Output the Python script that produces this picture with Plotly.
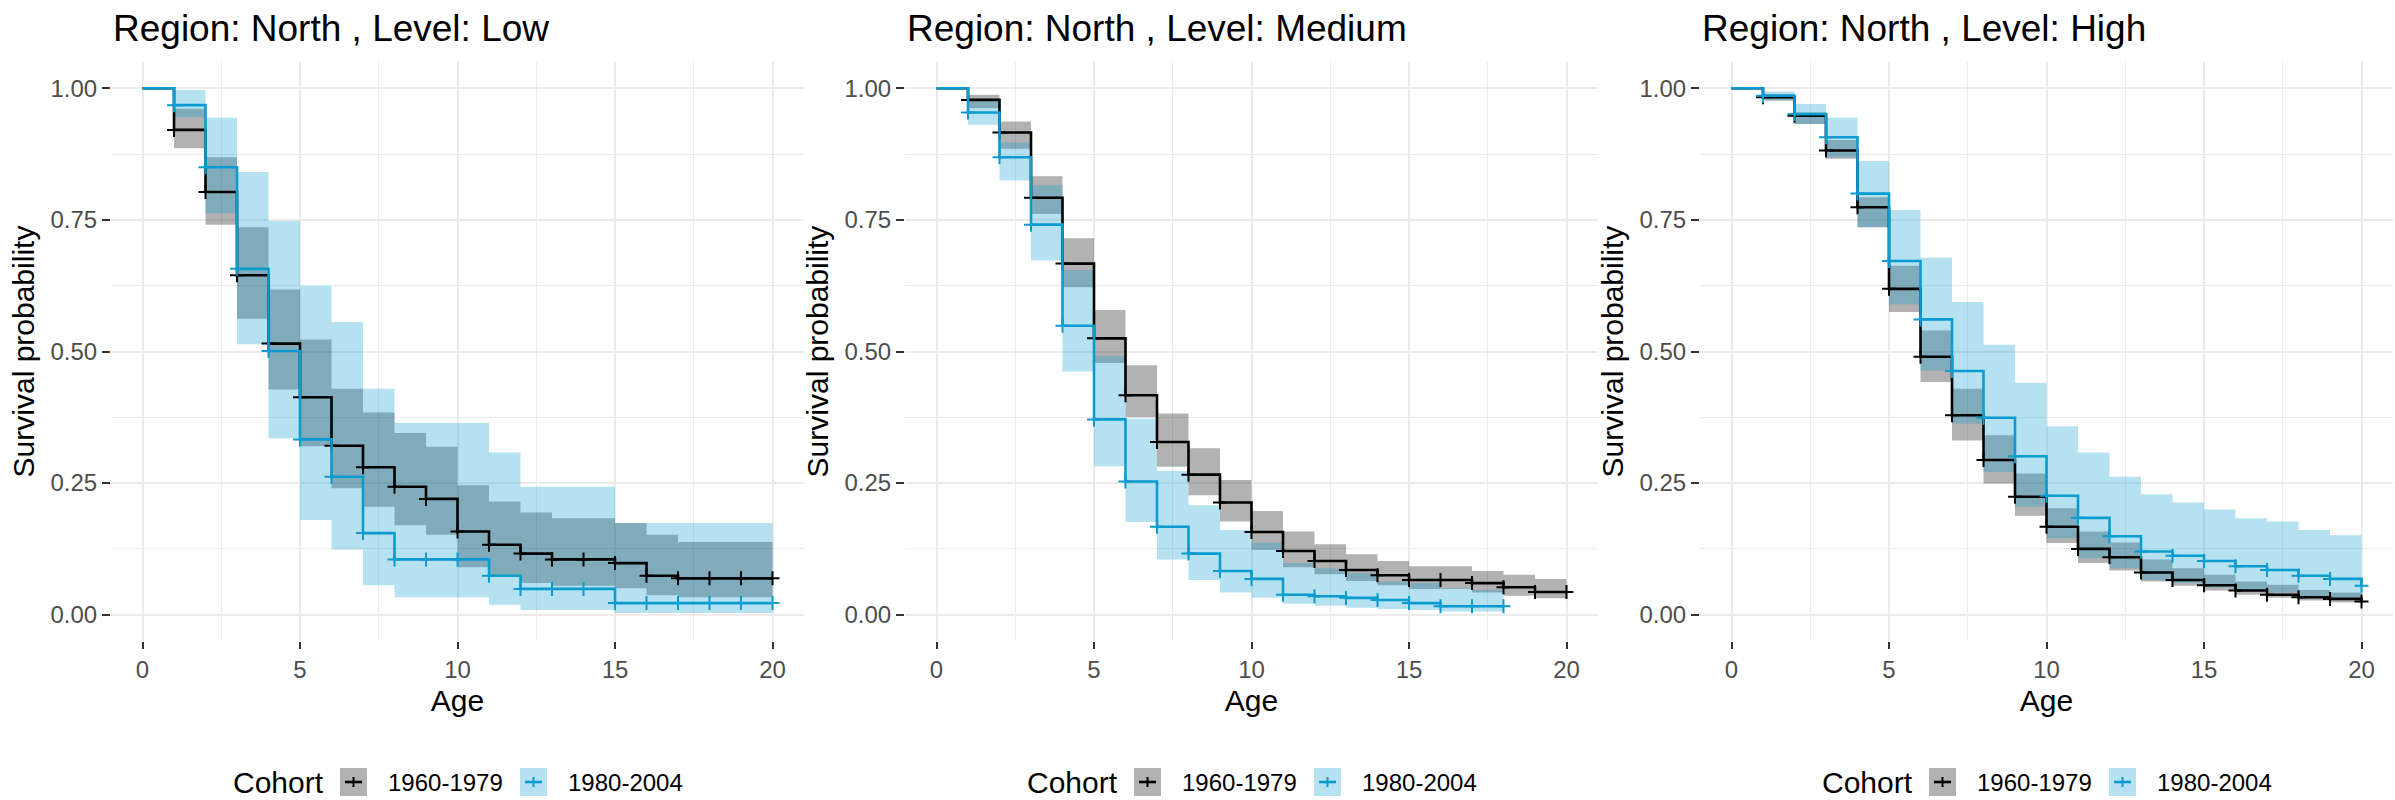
import plotly.graph_objects as go

# ---------------- data ----------------
ages = list(range(21))
cohorts = ["1960-1979", "1980-2004"]
panel_titles = ["Region: North , Level: Low", "Region: North , Level: Medium", "Region: North , Level: High"]
x_ticks = [0, 5, 10, 15, 20]
y_ticks = [0.0, 0.25, 0.5, 0.75, 1.0]

# Level: Low
low_1960_surv = [1.0, 0.921, 0.803, 0.645, 0.515, 0.413, 0.321, 0.280, 0.243, 0.220, 0.158, 0.133, 0.116, 0.105, 0.105, 0.098, 0.074, 0.069, 0.069, 0.069, 0.069]
low_1960_upper = [1.0, 0.961, 0.869, 0.736, 0.618, 0.523, 0.429, 0.384, 0.345, 0.319, 0.246, 0.215, 0.194, 0.183, 0.183, 0.174, 0.152, 0.138, 0.138, 0.138, 0.138]
low_1960_lower = [1.0, 0.886, 0.741, 0.562, 0.428, 0.320, 0.240, 0.205, 0.170, 0.152, 0.090, 0.072, 0.060, 0.055, 0.055, 0.050, 0.037, 0.033, 0.033, 0.033, 0.033]
low_1980_surv = [1.0, 0.968, 0.850, 0.657, 0.501, 0.333, 0.262, 0.155, 0.105, 0.105, 0.105, 0.074, 0.049, 0.049, 0.049, 0.022, 0.022, 0.022, 0.022, 0.022, 0.022]
low_1980_upper = [1.0, 0.997, 0.944, 0.841, 0.748, 0.625, 0.556, 0.429, 0.364, 0.364, 0.364, 0.308, 0.243, 0.243, 0.243, 0.174, 0.174, 0.174, 0.174, 0.174, 0.174]
low_1980_lower = [1.0, 0.945, 0.762, 0.514, 0.335, 0.180, 0.124, 0.056, 0.033, 0.033, 0.033, 0.019, 0.009, 0.009, 0.009, 0.003, 0.003, 0.003, 0.003, 0.003, 0.003]

# Level: Medium
med_1960_surv = [1.0, 0.978, 0.916, 0.792, 0.667, 0.525, 0.417, 0.328, 0.266, 0.213, 0.157, 0.121, 0.102, 0.085, 0.075, 0.066, 0.066, 0.060, 0.052, 0.043, 0.043]
med_1960_upper = [1.0, 0.988, 0.937, 0.833, 0.715, 0.579, 0.474, 0.382, 0.316, 0.256, 0.197, 0.158, 0.134, 0.115, 0.102, 0.092, 0.092, 0.083, 0.076, 0.068, 0.068]
med_1960_lower = [1.0, 0.962, 0.885, 0.761, 0.622, 0.478, 0.375, 0.281, 0.227, 0.177, 0.123, 0.090, 0.077, 0.064, 0.056, 0.049, 0.049, 0.042, 0.036, 0.031, 0.031]
med_1980_surv = [1.0, 0.954, 0.869, 0.741, 0.549, 0.371, 0.253, 0.167, 0.116, 0.083, 0.068, 0.038, 0.035, 0.032, 0.028, 0.022, 0.016, 0.016, 0.016]
med_1980_upper = [1.0, 0.977, 0.897, 0.816, 0.655, 0.491, 0.372, 0.273, 0.208, 0.161, 0.137, 0.098, 0.088, 0.079, 0.063, 0.060, 0.050, 0.047, 0.047]
med_1980_lower = [1.0, 0.931, 0.825, 0.673, 0.462, 0.282, 0.176, 0.105, 0.066, 0.042, 0.032, 0.021, 0.017, 0.013, 0.011, 0.009, 0.006, 0.006, 0.006]

# Level: High
high_1960_surv = [1.0, 0.983, 0.948, 0.882, 0.774, 0.619, 0.490, 0.379, 0.294, 0.224, 0.167, 0.125, 0.109, 0.080, 0.066, 0.056, 0.046, 0.038, 0.033, 0.030, 0.025]
high_1960_upper = [1.0, 0.989, 0.954, 0.902, 0.793, 0.663, 0.540, 0.429, 0.341, 0.268, 0.202, 0.158, 0.137, 0.105, 0.088, 0.076, 0.063, 0.057, 0.047, 0.042, 0.042]
high_1960_lower = [1.0, 0.977, 0.932, 0.866, 0.736, 0.575, 0.442, 0.331, 0.249, 0.188, 0.136, 0.098, 0.084, 0.063, 0.055, 0.046, 0.038, 0.032, 0.027, 0.023, 0.023]
high_1980_surv = [1.0, 0.986, 0.951, 0.907, 0.800, 0.672, 0.561, 0.463, 0.374, 0.301, 0.226, 0.184, 0.149, 0.120, 0.112, 0.102, 0.092, 0.085, 0.074, 0.068, 0.055]
high_1980_upper = [1.0, 0.994, 0.970, 0.944, 0.862, 0.769, 0.678, 0.594, 0.513, 0.440, 0.358, 0.308, 0.262, 0.229, 0.213, 0.200, 0.183, 0.177, 0.161, 0.151, 0.151]
high_1980_lower = [1.0, 0.977, 0.932, 0.869, 0.736, 0.590, 0.464, 0.363, 0.271, 0.205, 0.145, 0.107, 0.088, 0.066, 0.060, 0.052, 0.044, 0.042, 0.033, 0.030, 0.030]

panels = [
    [(low_1960_surv, low_1960_upper, low_1960_lower), (low_1980_surv, low_1980_upper, low_1980_lower)],
    [(med_1960_surv, med_1960_upper, med_1960_lower), (med_1980_surv, med_1980_upper, med_1980_lower)],
    [(high_1960_surv, high_1960_upper, high_1960_lower), (high_1980_surv, high_1980_upper, high_1980_lower)],
]

# ---------------- style ----------------
W, H = 2395, 800
FONT = "Liberation Sans, Arial, sans-serif"
line_colors = ["#000000", "#0A9BD0"]
fill_colors = ["rgba(0,0,0,0.30)", "rgba(10,155,208,0.30)"]
panel_left_px = [111, 905, 1700]
panel_w_px = 693
panel_top_px, panel_bot_px = 62, 641

def px_x(x):
    return x / W

def px_y(y):
    return (H - y) / H

fig = go.Figure()

for p, series in enumerate(panels):
    xa = "x" if p == 0 else f"x{p+1}"
    ya = "y" if p == 0 else f"y{p+1}"
    # confidence bands
    for c, (surv, upper, lower) in enumerate(series):
        n = len(surv)
        fig.add_trace(go.Scatter(x=ages[:n], y=lower, mode="lines", line=dict(width=0, shape="hv"),
                                 xaxis=xa, yaxis=ya, showlegend=False, hoverinfo="skip"))
        fig.add_trace(go.Scatter(x=ages[:n], y=upper, mode="lines", line=dict(width=0, shape="hv"),
                                 fill="tonexty", fillcolor=fill_colors[c],
                                 xaxis=xa, yaxis=ya, showlegend=False, hoverinfo="skip"))
    # survival curves + censor marks
    for c, (surv, upper, lower) in enumerate(series):
        n = len(surv)
        fig.add_trace(go.Scatter(x=ages[:n], y=surv, mode="lines",
                                 line=dict(color=line_colors[c], width=2.6, shape="hv"),
                                 xaxis=xa, yaxis=ya, name=cohorts[c], showlegend=False))
        fig.add_trace(go.Scatter(x=ages[1:n], y=surv[1:], mode="markers",
                                 marker=dict(symbol="cross-thin", size=10,
                                             line=dict(color=line_colors[c], width=2)),
                                 xaxis=xa, yaxis=ya, showlegend=False, hoverinfo="skip"))

layout = dict(
    width=W, height=H,
    margin=dict(l=0, r=0, t=0, b=0),
    paper_bgcolor="white", plot_bgcolor="white",
    font=dict(family=FONT, color="#000000"),
    showlegend=False,
)

for p in range(3):
    sx = "" if p == 0 else str(p + 1)
    left = panel_left_px[p]
    layout[f"xaxis{sx}"] = dict(
        domain=[px_x(left), px_x(left + panel_w_px)],
        anchor=f"y{sx}", range=[-1, 21],
        tickvals=x_ticks, ticktext=[str(v) for v in x_ticks],
        ticks="outside", ticklen=7, tickwidth=2, tickcolor="#333333",
        tickfont=dict(size=24, color="#4D4D4D", family=FONT),
        showgrid=True, gridcolor="#EBEBEB", gridwidth=2,
        minor=dict(dtick=2.5, tick0=0, showgrid=True, gridcolor="#EBEBEB", gridwidth=1),
        zeroline=False, showline=False, automargin=False,
        title=dict(text="Age", font=dict(size=30, color="#000000", family=FONT), standoff=8),
    )
    layout[f"yaxis{sx}"] = dict(
        domain=[px_y(panel_bot_px), px_y(panel_top_px)],
        anchor=f"x{sx}", range=[-0.05, 1.05],
        tickvals=y_ticks, ticktext=[f"{v:.2f}" for v in y_ticks],
        ticks="outside", ticklen=8, tickwidth=2, tickcolor="#333333",
        tickfont=dict(size=24, color="#4D4D4D", family=FONT),
        showgrid=True, gridcolor="#EBEBEB", gridwidth=2,
        minor=dict(dtick=0.125, tick0=0, showgrid=True, gridcolor="#EBEBEB", gridwidth=1),
        zeroline=False, showline=False, automargin=False,
        title=dict(text="Survival probability", font=dict(size=30, color="#000000", family=FONT), standoff=6),
    )

annotations = []
shapes = []
for p in range(3):
    left = panel_left_px[p]
    annotations.append(dict(text=panel_titles[p], xref="paper", yref="paper",
                            x=px_x(left), y=px_y(28), xanchor="left", yanchor="middle",
                            showarrow=False, font=dict(size=37, color="#000000", family=FONT)))
    # legend (one per panel, as in the reference)
    ly = 782
    annotations.append(dict(text="Cohort", xref="paper", yref="paper",
                            x=px_x(left + 120), y=px_y(ly), xanchor="left", yanchor="middle",
                            showarrow=False, font=dict(size=30, color="#000000", family=FONT)))
    key_lefts = [left + 229, left + 409]
    text_lefts = [left + 275, left + 455]
    for c in range(2):
        kl = key_lefts[c]
        shapes.append(dict(type="rect", xref="paper", yref="paper",
                           x0=px_x(kl), x1=px_x(kl + 27), y0=px_y(ly - 14), y1=px_y(ly + 14),
                           fillcolor=fill_colors[c], line=dict(width=0)))
        shapes.append(dict(type="line", xref="paper", yref="paper",
                           x0=px_x(kl + 5), x1=px_x(kl + 22), y0=px_y(ly), y1=px_y(ly),
                           line=dict(color=line_colors[c], width=2.6)))
        shapes.append(dict(type="line", xref="paper", yref="paper",
                           x0=px_x(kl + 13.5), x1=px_x(kl + 13.5), y0=px_y(ly - 5), y1=px_y(ly + 5),
                           line=dict(color=line_colors[c], width=2)))
        annotations.append(dict(text=cohorts[c], xref="paper", yref="paper",
                                x=px_x(text_lefts[c]), y=px_y(ly), xanchor="left", yanchor="middle",
                                showarrow=False, font=dict(size=24, color="#000000", family=FONT)))

layout["annotations"] = annotations
layout["shapes"] = shapes
fig.update_layout(**layout)

fig.write_html("out.html")
